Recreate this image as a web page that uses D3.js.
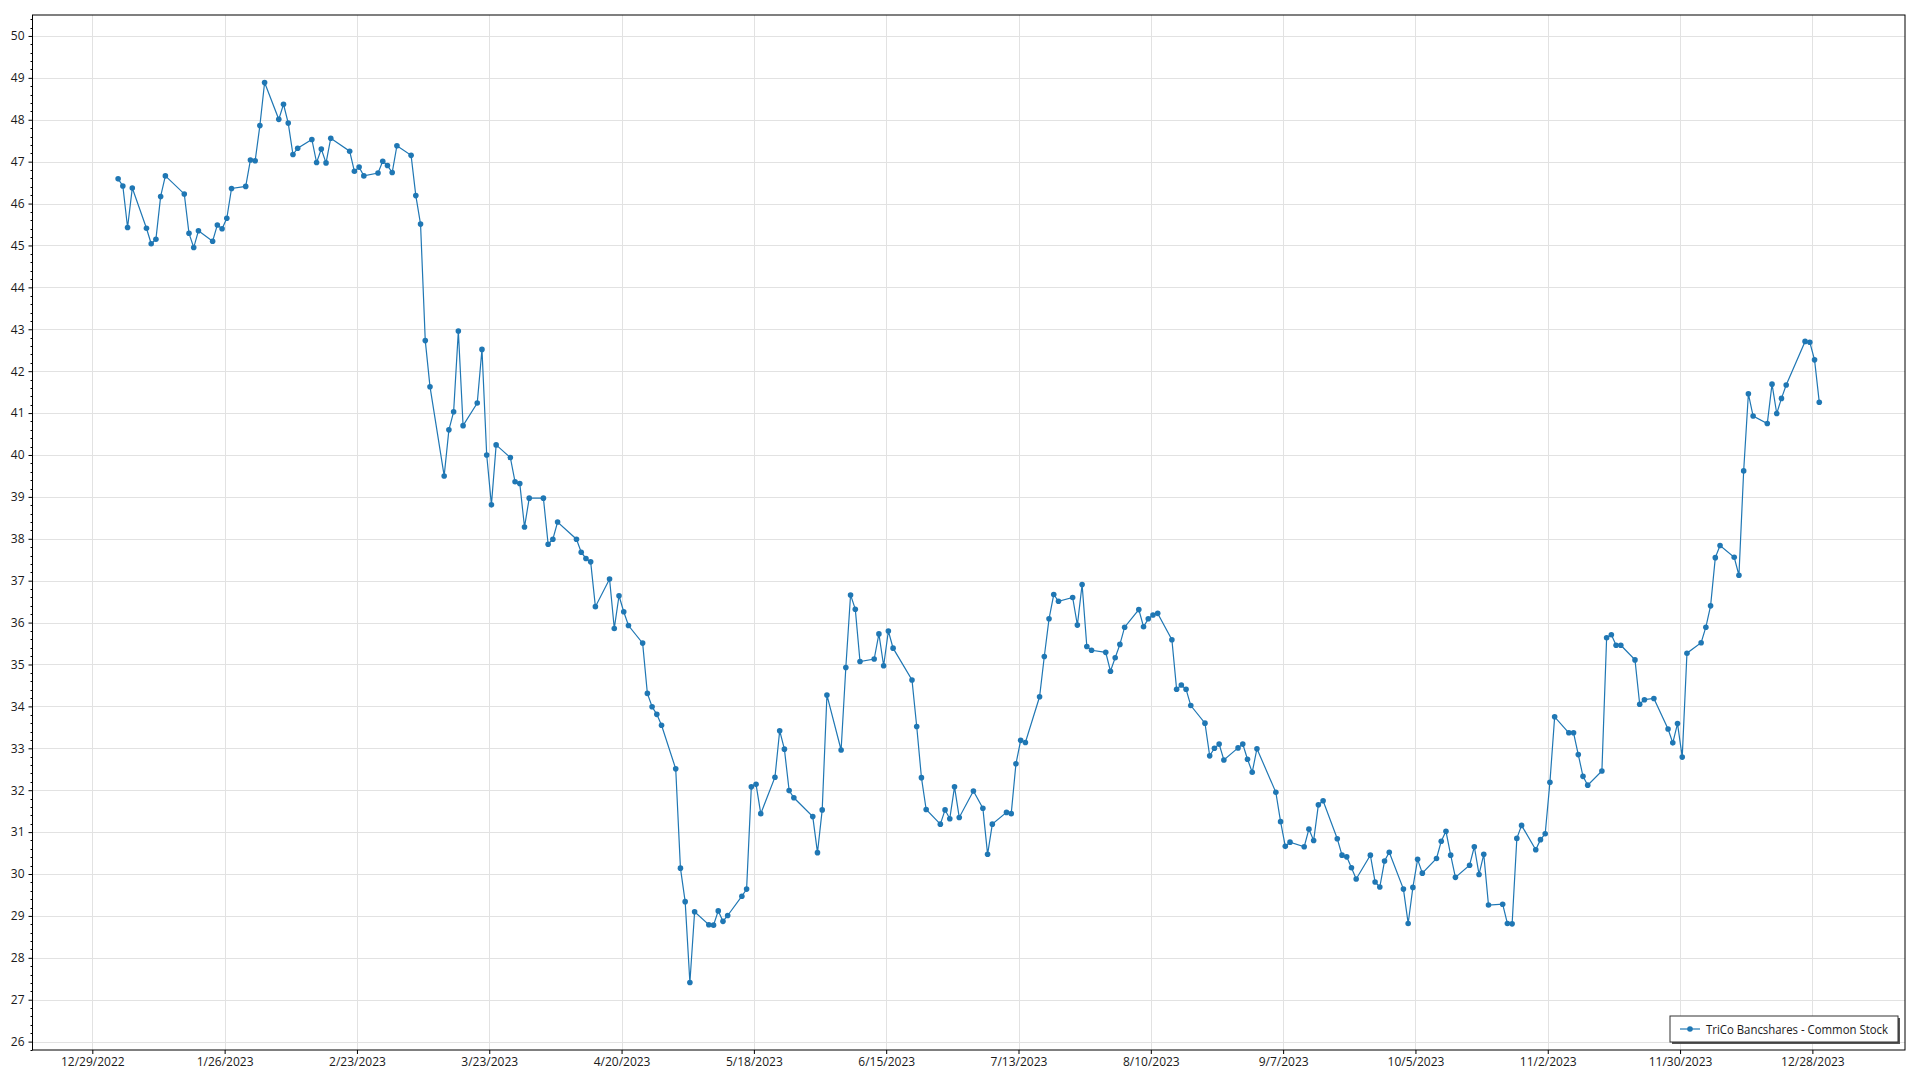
<!DOCTYPE html>
<html>
<head>
<meta charset="utf-8">
<script src="https://cdn.jsdelivr.net/npm/d3@7"></script>
<style>
  html, body { margin: 0; padding: 0; background: #ffffff; }
  svg { display: block; }
  text { font-family: "Open Sans", "Noto Sans", sans-serif; }
</style>
</head>
<body>
<svg id="chart" width="1920" height="1080"></svg>
<script>
const seriesName = "TriCo Bancshares - Common Stock";

const months = ["2023-01","2023-02","2023-03","2023-04","2023-05","2023-06","2023-07","2023-08","2023-09","2023-10","2023-11","2023-12"];

const janDays = [3,4,5,6,9,10,11,12,13,17,18,19,20,23,24,25,26,27,30,31];
const janVals = [46.59,46.42,45.43,46.37,45.41,45.04,45.15,46.17,46.66,46.23,45.29,44.95,45.35,45.10,45.49,45.40,45.65,46.36,46.41,47.04];

const febDays = [1,2,3,6,7,8,9,10,13,14,15,16,17,21,22,23,24,27,28];
const febVals = [47.02,47.86,48.89,48.01,48.37,47.92,47.17,47.32,47.53,46.98,47.30,46.97,47.56,47.25,46.77,46.87,46.66,46.73,47.01];

const marDays = [1,2,3,6,7,8,9,10,13,14,15,16,17,20,21,22,23,24,27,28,29,30,31];
const marVals = [46.91,46.74,47.38,47.15,46.19,45.51,42.73,41.63,39.50,40.60,41.03,42.96,40.70,41.24,42.52,40.00,38.81,40.24,39.94,39.36,39.32,38.28,38.97];

const aprDays = [3,4,5,6,10,11,12,13,14,17,18,19,20,21,24,25,26,27,28];
const aprVals = [38.97,37.87,37.99,38.40,37.99,37.68,37.53,37.45,36.38,37.04,35.86,36.64,36.26,35.93,35.51,34.31,33.99,33.81,33.55];

const mayDays = [1,2,3,4,5,8,9,10,11,12,15,16,17,18,19,22,23,24,25,26,30,31];
const mayVals = [32.51,30.14,29.34,27.41,29.10,28.79,28.78,29.12,28.87,29.01,29.47,29.64,32.08,32.14,31.44,32.31,33.42,32.98,31.99,31.82,31.37,30.51];

const junDays = [1,2,5,6,7,8,9,12,13,14,15,16,20,21,22,23,26,27,28,29,30];
const junVals = [31.53,34.27,32.96,34.93,36.66,36.32,35.07,35.13,35.73,34.97,35.80,35.39,34.63,33.52,32.30,31.54,31.19,31.53,31.32,32.08,31.35];

const julDays = [3,5,6,7,10,11,12,13,14,17,18,19,20,21,24,25,26,27,28,31];
const julVals = [31.98,31.57,30.47,31.19,31.47,31.44,32.63,33.19,33.14,34.23,35.19,36.09,36.67,36.51,36.60,35.94,36.91,35.43,35.34,35.29];

const augDays = [1,2,3,4,7,8,9,10,11,14,15,16,17,18,21,22,23,24,25,28,29,30,31];
const augVals = [34.84,35.16,35.48,35.89,36.31,35.90,36.09,36.18,36.22,35.59,34.41,34.51,34.41,34.02,33.60,32.82,33.00,33.10,32.72,33.01,33.10,32.74,32.43];

const sepDays = [1,5,6,7,8,11,12,13,14,15,18,19,20,21,22,25,26,27,28,29];
const sepVals = [32.99,31.95,31.25,30.66,30.76,30.65,31.07,30.80,31.65,31.75,30.84,30.45,30.41,30.15,29.88,30.45,29.81,29.69,30.31,30.52];

const octDays = [2,3,4,5,6,9,10,11,12,13,16,17,18,19,20,23,24,25,26,27,30,31];
const octVals = [29.64,28.82,29.68,30.35,30.02,30.37,30.78,31.02,30.45,29.92,30.21,30.65,29.99,30.47,29.26,29.28,28.82,28.81,30.85,31.16,30.58,30.82];

const novDays = [1,2,3,6,7,8,9,10,13,14,15,16,17,20,21,22,24,27,28,29,30];
const novVals = [30.96,32.19,33.75,33.37,33.37,32.85,32.33,32.12,32.46,35.64,35.71,35.46,35.46,35.11,34.05,34.16,34.19,33.46,33.13,33.59,32.79];

const decDays = [1,4,5,6,7,8,11,12,13,14,15,18,19,20,21,22,26,27,28,29];
const decVals = [35.27,35.52,35.89,36.40,37.55,37.84,37.56,37.13,39.62,41.46,40.93,40.75,41.69,40.99,41.35,41.67,42.71,42.69,42.27,41.26];

const xTickLabels = ["12/29/2022","1/26/2023","2/23/2023","3/23/2023","4/20/2023","5/18/2023","6/15/2023","7/13/2023","8/10/2023","9/7/2023","10/5/2023","11/2/2023","11/30/2023","12/28/2023"];
const yTickLabels = [26,27,28,29,30,31,32,33,34,35,36,37,38,39,40,41,42,43,44,45,46,47,48,49,50];

// ---- build data table ----
const monthDays = [janDays,febDays,marDays,aprDays,mayDays,junDays,julDays,augDays,sepDays,octDays,novDays,decDays];
const monthVals = [janVals,febVals,marVals,aprVals,mayVals,junVals,julVals,augVals,sepVals,octVals,novVals,decVals];
const data = [];
monthDays.forEach((days, mi) => {
  days.forEach((d, i) => {
    const [yy, mm] = months[mi].split("-").map(Number);
    // quotes stamped during the trading session
    data.push({ date: new Date(yy, mm - 1, d, 11, 0), value: monthVals[mi][i] });
  });
});

const parseTick = d3.timeParse("%m/%d/%Y");
const xTicks = xTickLabels.map(s => parseTick(s));

// ---- layout ----
const svg = d3.select("#chart");
const plot = { left: 32.5, top: 15, right: 1905, bottom: 1050 };

const dayMs = 86400000;
const t0 = xTicks[0].getTime();
const x = d3.scaleTime()
  .domain([new Date(t0 - 12.66 * dayMs), new Date(t0 + 383.6 * dayMs)])
  .range([plot.left, plot.right]);

const y = d3.scaleLinear()
  .domain([25.8, 50.5])
  .range([plot.bottom, plot.top]);

const gridColor = "#e2e2e2";
const textColor = "#1a1a1a";

// gridlines
const grid = svg.append("g");
grid.selectAll("line.hg").data(yTickLabels).enter().append("line")
  .attr("x1", plot.left).attr("x2", plot.right)
  .attr("y1", d => Math.round(y(d)) + 0.5).attr("y2", d => Math.round(y(d)) + 0.5)
  .attr("stroke", gridColor).attr("stroke-width", 1);
grid.selectAll("line.vg").data(xTicks).enter().append("line")
  .attr("y1", plot.top).attr("y2", plot.bottom)
  .attr("x1", d => Math.round(x(d)) + 0.5).attr("x2", d => Math.round(x(d)) + 0.5)
  .attr("stroke", gridColor).attr("stroke-width", 1);

// axes
const yAxis = d3.axisLeft(y)
  .tickValues(yTickLabels)
  .tickFormat(d3.format("d"))
  .tickSize(4)
  .tickPadding(4);
const yMinor = d3.range(258, 505, 2).map(v => v / 10).filter(v => Math.abs(v - Math.round(v)) > 1e-6);

const gy = svg.append("g").attr("transform", `translate(${plot.left},0)`).call(yAxis);
gy.select(".domain").remove();
gy.selectAll("text").attr("fill", textColor).style("font-size", "12px");
gy.selectAll("line").attr("stroke", "#000");

svg.append("g").selectAll("line").data(yMinor).enter().append("line")
  .attr("x1", plot.left - 2).attr("x2", plot.left)
  .attr("y1", d => Math.round(y(d)) + 0.5).attr("y2", d => Math.round(y(d)) + 0.5)
  .attr("stroke", "#000");

const xAxis = d3.axisBottom(x)
  .tickValues(xTicks)
  .tickFormat((d, i) => xTickLabels[i])
  .tickSize(4)
  .tickPadding(3);
const gx = svg.append("g").attr("transform", `translate(0,${plot.bottom})`).call(xAxis);
gx.select(".domain").remove();
gx.selectAll("text").attr("fill", textColor).style("font-size", "12px");
gx.selectAll("line").attr("stroke", "#000");

// plot border
svg.append("rect")
  .attr("x", plot.left).attr("y", plot.top)
  .attr("width", plot.right - plot.left).attr("height", plot.bottom - plot.top)
  .attr("fill", "none").attr("stroke", "#000").attr("stroke-width", 1);

// series
const color = "#1f77b4";
const line = d3.line().x(d => x(d.date)).y(d => y(d.value));
svg.append("path").datum(data)
  .attr("d", line).attr("fill", "none")
  .attr("stroke", color).attr("stroke-width", 1.2);
svg.append("g").selectAll("circle").data(data).enter().append("circle")
  .attr("cx", d => x(d.date)).attr("cy", d => y(d.value))
  .attr("r", 2.8).attr("fill", color);

// legend
const lg = { x: 1670, y: 1016, w: 228, h: 26 };
const legend = svg.append("g");
legend.append("rect")
  .attr("x", lg.x + 2).attr("y", lg.y + 2).attr("width", lg.w).attr("height", lg.h)
  .attr("fill", "#555");
legend.append("rect")
  .attr("x", lg.x).attr("y", lg.y).attr("width", lg.w).attr("height", lg.h)
  .attr("fill", "#ffffff").attr("stroke", "#333").attr("stroke-width", 1);
legend.append("line")
  .attr("x1", lg.x + 10).attr("x2", lg.x + 30)
  .attr("y1", lg.y + lg.h / 2).attr("y2", lg.y + lg.h / 2)
  .attr("stroke", color).attr("stroke-width", 1.2);
legend.append("circle")
  .attr("cx", lg.x + 20).attr("cy", lg.y + lg.h / 2).attr("r", 2.8).attr("fill", color);
legend.append("text")
  .attr("x", lg.x + 36).attr("y", lg.y + lg.h / 2)
  .attr("dominant-baseline", "central")
  .attr("textLength", 182).attr("lengthAdjust", "spacingAndGlyphs")
  .attr("fill", textColor).style("font-size", "12px")
  .text(seriesName);
</script>
</body>
</html>
